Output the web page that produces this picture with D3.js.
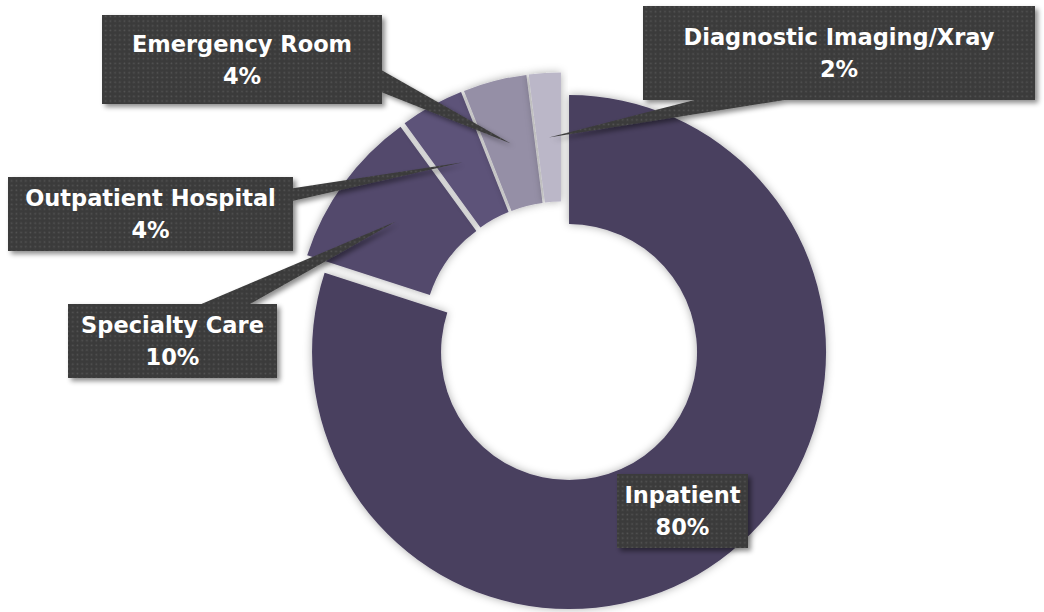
<!DOCTYPE html>
<html>
<head>
<meta charset="utf-8">
<script src="https://cdn.jsdelivr.net/npm/d3@7"></script>
<style>
  html, body { margin: 0; padding: 0; background: #ffffff; }
  svg { display: block; }
  .callout-text { font-family: "DejaVu Sans", sans-serif; font-weight: bold; font-size: 22.5px; fill: #ffffff; }
</style>
</head>
<body>
<div id="chart"></div>
<script>
// Chart data
const categories = ["Inpatient", "Specialty Care", "Outpatient Hospital", "Emergency Room", "Diagnostic Imaging/Xray"];
const shares = [80, 10, 4, 4, 2];
const shareLabels = ["80%", "10%", "4%", "4%", "2%"];
const sliceColors = ["#483f5f", "#534a6c", "#5d5379", "#958fa6", "#bbb7c8"];

// Hand placed callouts, like the original slide (box + wedge base points)
const calloutLayout = {
  "Inpatient":               { box: [617, 474, 131, 74], base: null },
  "Specialty Care":          { box: [68, 304, 209, 74],  base: [[192, 308], [243, 308]] },
  "Outpatient Hospital":     { box: [8, 177, 285, 74],   base: [[288, 189], [288, 202]] },
  "Emergency Room":          { box: [102, 15, 280, 89],  base: [[376, 67], [376, 90]] },
  "Diagnostic Imaging/Xray": { box: [643, 6, 392, 94],   base: [[710, 96], [810, 96]] }
};

const width = 1044, height = 612;
const cx = 561.7, cy = 342;
const outerR = 257, innerR = 128;
const explode = 12.5;

const svg = d3.select("#chart").append("svg")
  .attr("width", width)
  .attr("height", height);

const defs = svg.append("defs");

// dotted texture used by the callouts
const pat = defs.append("pattern")
  .attr("id", "dots")
  .attr("patternUnits", "userSpaceOnUse")
  .attr("width", 4.7)
  .attr("height", 4.7);
pat.append("rect").attr("width", 4.7).attr("height", 4.7).attr("fill", "#3b3b3b");
pat.append("rect").attr("x", 1.5).attr("y", 1.5).attr("width", 1.6).attr("height", 1.6).attr("fill", "#555555");

const ringShadow = defs.append("filter")
  .attr("id", "ringShadow")
  .attr("x", "-20%").attr("y", "-20%").attr("width", "140%").attr("height", "140%");
ringShadow.append("feDropShadow")
  .attr("dx", 0).attr("dy", 0)
  .attr("stdDeviation", 4.5)
  .attr("flood-color", "#000")
  .attr("flood-opacity", 0.33);

const boxShadow = defs.append("filter")
  .attr("id", "boxShadow")
  .attr("x", "-20%").attr("y", "-20%").attr("width", "140%").attr("height", "150%");
boxShadow.append("feDropShadow")
  .attr("dx", 3).attr("dy", 3)
  .attr("stdDeviation", 2.5)
  .attr("flood-color", "#000")
  .attr("flood-opacity", 0.45);

const pie = d3.pie().sort(null).value(d => d)(shares);
const arc = d3.arc().innerRadius(innerR).outerRadius(outerR);

// offset of each exploded slice along its mid angle
function explodeOffset(a) {
  const mid = (a.startAngle + a.endAngle) / 2;
  return [explode * Math.sin(mid), -explode * Math.cos(mid)];
}

const ring = svg.append("g")
  .attr("transform", "translate(" + cx + "," + cy + ")");

ring.selectAll("path")
  .data(pie)
  .enter().append("path")
    .attr("d", arc)
    .attr("transform", d => "translate(" + explodeOffset(d) + ")")
    .attr("fill", (d, i) => sliceColors[i])
    .attr("filter", "url(#ringShadow)");

// Callouts: wedge + box + two lines of text
const callouts = svg.append("g").attr("class", "callouts");

pie.forEach((d, i) => {
  const lay = calloutLayout[categories[i]];
  const g = callouts.append("g").attr("filter", "url(#boxShadow)");
  const [bx, by, bw, bh] = lay.box;

  if (lay.base) {
    const off = explodeOffset(d);
    const c = arc.centroid(d);
    const tip = [cx + c[0] + off[0], cy + c[1] + off[1]];
    g.append("path")
      .attr("d", d3.line()([lay.base[0], lay.base[1], tip]) + "Z")
      .attr("fill", "url(#dots)");
  }

  g.append("rect")
    .attr("x", bx).attr("y", by)
    .attr("width", bw).attr("height", bh)
    .attr("fill", "url(#dots)");

  const midY = by + bh / 2;
  const t = callouts.append("text")
    .attr("class", "callout-text")
    .attr("text-anchor", "middle");
  t.append("tspan")
    .attr("x", bx + bw / 2)
    .attr("y", midY - 8)
    .text(categories[i]);
  t.append("tspan")
    .attr("x", bx + bw / 2)
    .attr("y", midY + 24)
    .text(shareLabels[i]);
});
</script>
</body>
</html>
